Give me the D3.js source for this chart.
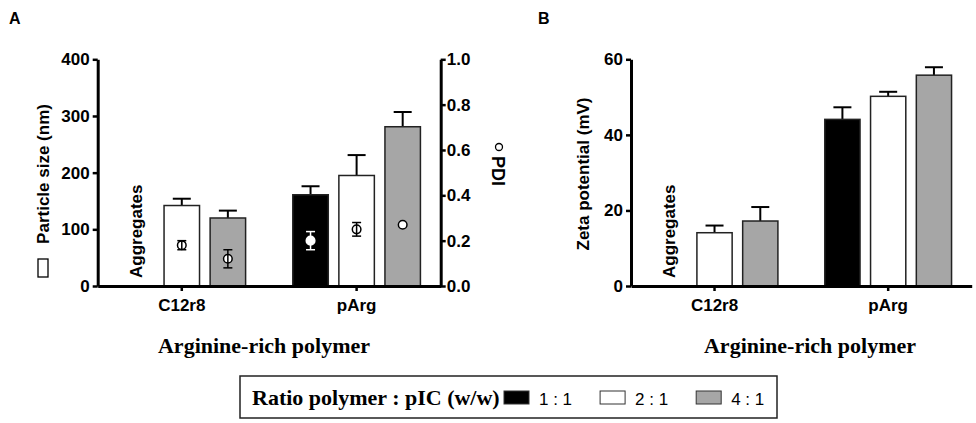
<!DOCTYPE html>
<html>
<head>
<meta charset="utf-8">
<script src="https://cdn.jsdelivr.net/npm/d3@7"></script>
<style>
    body { margin: 0; background: #fff; }
    svg text { font-family: "Liberation Sans", Arial, sans-serif; }
    .serif { font-family: "Liberation Serif", "Times New Roman", serif !important; }
</style>
</head>
<body>
<svg id="chart" width="976" height="423"></svg>
<script>
// data
const polymers = ["C12r8", "pArg"];
const ratios = ["1 : 1", "2 : 1", "4 : 1"];
const ratioColors = ["#000000", "#ffffff", "#a6a6a6"];

// rows = polymer, cols = ratio (null = aggregates, not measured)
const sizeMean = [[null, 142, 120], [161, 195, 281]];
const sizeErr  = [[null, 12, 13], [15, 36, 26]];
const pdiMean  = [[null, 0.18, 0.12], [0.20, 0.25, 0.27]];
const pdiErr   = [[null, 0.02, 0.04], [0.04, 0.03, 0]];
const zetaMean = [[null, 14.1, 17.2], [44.1, 50.2, 55.8]];
const zetaErr  = [[null, 1.9, 3.7], [3.2, 1.2, 2.1]];

const sizeTicks = [0, 100, 200, 300, 400];
const pdiTicks = [0, 0.2, 0.4, 0.6, 0.8, 1.0];
const zetaTicks = [0, 20, 40, 60];

/*
LAYOUT
*/
const svg = d3.select("#chart");
const yTop = 59.3, yBase = 286;
const fs = 17;

function rowsFor(means, errs){
    const rows = [];
    polymers.forEach(function(p, i){
        ratios.forEach(function(r, j){
            if (means[i][j] != null) rows.push({polymer: p, ratio: r, j: j, v: means[i][j], e: errs[i][j]});
        });
    });
    return rows;
}

function styleAxis(g, size){
    g.select(".domain").attr("stroke", "#000").attr("stroke-width", 3);
    g.selectAll(".tick line").attr("stroke", "#000").attr("stroke-width", 2.5);
    g.selectAll(".tick text")
        .attr("fill", "#000")
        .style("font-size", size + "px")
        .style("font-weight", "bold");
}

function drawPanel(opts){
    const x = d3.scaleBand()
        .domain(polymers)
        .range(opts.xRange)
        .paddingInner(0.27)
        .paddingOuter(0.116);

    const xSub = d3.scaleBand()
        .domain(ratios)
        .range([0, x.bandwidth()])
        .paddingInner(0.23)
        .paddingOuter(0);

    const y = d3.scaleLinear()
        .domain([0, opts.ticks[opts.ticks.length - 1]])
        .range([yBase, yTop]);

    const rows = rowsFor(opts.means, opts.errs);
    const cx = function(d){ return x(d.polymer) + xSub(d.ratio) + xSub.bandwidth() / 2; };

    // error bars (upper only)
    svg.append("g").selectAll("line.err")
        .data(rows)
        .enter()
        .append("line")
        .attr("x1", cx).attr("x2", cx)
        .attr("y1", function(d){ return y(d.v); })
        .attr("y2", function(d){ return y(d.v + d.e); })
        .attr("stroke", "#000").attr("stroke-width", 2);

    svg.append("g").selectAll("line.cap")
        .data(rows)
        .enter()
        .append("line")
        .attr("x1", function(d){ return cx(d) - 9; })
        .attr("x2", function(d){ return cx(d) + 9; })
        .attr("y1", function(d){ return y(d.v + d.e); })
        .attr("y2", function(d){ return y(d.v + d.e); })
        .attr("stroke", "#000").attr("stroke-width", 2);

    // bars
    svg.append("g").selectAll("rect")
        .data(rows)
        .enter()
        .append("rect")
        .attr("x", function(d){ return x(d.polymer) + xSub(d.ratio); })
        .attr("y", function(d){ return y(d.v); })
        .attr("width", xSub.bandwidth())
        .attr("height", function(d){ return yBase - y(d.v); })
        .attr("fill", function(d){ return ratioColors[d.j]; })
        .attr("stroke", "#222")
        .attr("stroke-width", 1.5);

    // "Aggregates" in the empty 1:1 slot of C12r8
    const aggX = x(polymers[0]) + xSub(ratios[0]) + xSub.bandwidth() / 2 + 6;
    svg.append("text")
        .attr("transform", `translate(${aggX},${yBase - 8}) rotate(-90)`)
        .attr("text-anchor", "start")
        .style("font-size", fs + "px")
        .style("font-weight", "bold")
        .text("Aggregates");

    // axes
    const yAxis = svg.append("g")
        .attr("transform", `translate(${opts.xRange[0]},0)`)
        .call(d3.axisLeft(y).tickValues(opts.ticks).tickSize(5).tickPadding(3).tickSizeOuter(0));
    styleAxis(yAxis, fs);

    const xAxis = svg.append("g")
        .attr("transform", `translate(0,${yBase})`)
        .call(d3.axisBottom(x).tickSize(5).tickPadding(8).tickSizeOuter(0));
    styleAxis(xAxis, fs);

    return {x: x, xSub: xSub, cx: cx};
}

/*
PANEL A
*/
const panelA = drawPanel({xRange: [97.7, 440.7], ticks: sizeTicks, means: sizeMean, errs: sizeErr});

const yPdi = d3.scaleLinear()
    .domain([0, 1])
    .range([yBase, yTop]);

const pdiRows = rowsFor(pdiMean, pdiErr);
const pdiColor = function(d){ return d.j == 0 ? "#fff" : "#000"; };

svg.append("g").selectAll("circle")
    .data(pdiRows)
    .enter()
    .append("circle")
    .attr("cx", panelA.cx)
    .attr("cy", function(d){ return yPdi(d.v); })
    .attr("r", 4.3)
    .attr("fill", "#fff")
    .attr("stroke", pdiColor)
    .attr("stroke-width", 1.5);

const pdiErrRows = pdiRows.filter(function(d){ return d.e > 0; });

svg.append("g").selectAll("line")
    .data(pdiErrRows)
    .enter()
    .append("line")
    .attr("x1", panelA.cx).attr("x2", panelA.cx)
    .attr("y1", function(d){ return yPdi(d.v - d.e); })
    .attr("y2", function(d){ return yPdi(d.v + d.e); })
    .attr("stroke", pdiColor).attr("stroke-width", 1.5);

[-1, 1].forEach(function(s){
    svg.append("g").selectAll("line")
        .data(pdiErrRows)
        .enter()
        .append("line")
        .attr("x1", function(d){ return panelA.cx(d) - 4.5; })
        .attr("x2", function(d){ return panelA.cx(d) + 4.5; })
        .attr("y1", function(d){ return yPdi(d.v + s * d.e); })
        .attr("y2", function(d){ return yPdi(d.v + s * d.e); })
        .attr("stroke", pdiColor).attr("stroke-width", 1.5);
});

const rightAxis = svg.append("g")
    .attr("transform", "translate(440.7,0)")
    .call(d3.axisRight(yPdi).tickValues(pdiTicks).tickFormat(d3.format(".1f")).tickSize(5).tickPadding(1).tickSizeOuter(0));
styleAxis(rightAxis, fs);

/*
PANEL B
*/
drawPanel({xRange: [631, 971.7], ticks: zetaTicks, means: zetaMean, errs: zetaErr});

/*
LABELS
*/
svg.append("text").attr("x", 9).attr("y", 24)
    .style("font-size", "16px").style("font-weight", "bold").text("A");
svg.append("text").attr("x", 538).attr("y", 24)
    .style("font-size", "16px").style("font-weight", "bold").text("B");

svg.append("text")
    .attr("transform", "translate(49,174) rotate(-90)")
    .attr("text-anchor", "middle")
    .style("font-size", fs + "px").style("font-weight", "bold")
    .text("Particle size (nm)");
svg.append("rect")
    .attr("x", 38).attr("y", 259).attr("width", 10).attr("height", 18)
    .attr("fill", "#fff").attr("stroke", "#000").attr("stroke-width", 1.3);

svg.append("circle")
    .attr("cx", 499).attr("cy", 147).attr("r", 3.5)
    .attr("fill", "#fff").attr("stroke", "#000").attr("stroke-width", 1.3);
svg.append("text")
    .attr("transform", "translate(492,156) rotate(90)")
    .attr("text-anchor", "start")
    .style("font-size", "18px").style("font-weight", "bold")
    .text("PDI");

svg.append("text")
    .attr("transform", "translate(589,174) rotate(-90)")
    .attr("text-anchor", "middle")
    .style("font-size", fs + "px").style("font-weight", "bold")
    .text("Zeta potential (mV)");

[264, 810].forEach(function(cx){
    svg.append("text")
        .attr("class", "serif")
        .attr("x", cx).attr("y", 353)
        .attr("text-anchor", "middle")
        .style("font-size", "22px").style("font-weight", "bold")
        .text("Arginine-rich polymer");
});

/*
LEGEND
*/
svg.append("rect")
    .attr("x", 240).attr("y", 376).attr("width", 537).attr("height", 42)
    .attr("fill", "#fff").attr("stroke", "#222").attr("stroke-width", 1.5);

svg.append("text")
    .attr("class", "serif")
    .attr("x", 252).attr("y", 405)
    .style("font-size", "22px").style("font-weight", "bold")
    .text("Ratio polymer : pIC (w/w)");

let legX = 504;
ratios.forEach(function(r, j){
    svg.append("rect")
        .attr("x", legX).attr("y", 391).attr("width", 25).attr("height", 13)
        .attr("fill", ratioColors[j]).attr("stroke", "#333").attr("stroke-width", 1);
    const t = svg.append("text")
        .attr("x", legX + 35).attr("y", 405)
        .style("font-size", "17px")
        .text(r);
    legX += 35 + t.node().getComputedTextLength() + 28;
});
</script>
</body>
</html>
